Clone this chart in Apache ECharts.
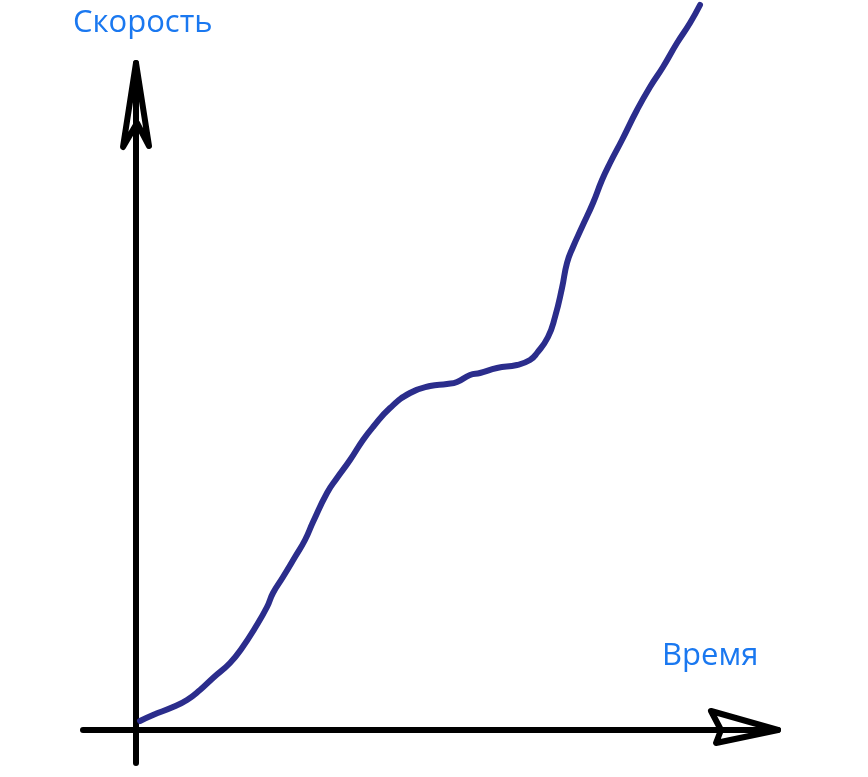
<!DOCTYPE html>
<html>
<head>
<meta charset="utf-8">
<script src="https://cdn.jsdelivr.net/npm/echarts@6/dist/echarts.min.js"></script>
<style>
html,body{margin:0;padding:0;background:#fff;}
#chart{width:868px;height:777px;}
</style>
</head>
<body>
<div id="chart"></div>
<script>
// Curve values (time, speed), in arbitrary units
const time = [4,17,37,51,64,77,94,106,119,131,137,147,159,169,177,191,201,214,227,237,254,274,294,311,321,334,344,361,381,394,401,412,419,426,431,437,446,457,466,474,486,501,514,527,541,554,564];
const speed = [9,15,23,30,40,52,67,82,102,123,137,153,173,190,208,237,252,270,290,303,322,337,344,346,348,355,357,362,365,370,377,393,413,442,467,483,503,527,550,567,590,620,643,663,687,707,725];
const xName = 'Время';
const yName = 'Скорость';

const chart = echarts.init(document.getElementById('chart'), null, {renderer: 'canvas'});
const data = time.map((t, i) => [t, speed[i]]);

const axisCommon = {
  type: 'value',
  axisLine: {show: true, onZero: true, lineStyle: {color: '#000', width: 6, cap: 'round'}},
  axisTick: {show: false},
  axisLabel: {show: false},
  splitLine: {show: false}
};

chart.setOption({
  animation: false,
  backgroundColor: '#fff',
  grid: {left: 83, right: 90, top: 63, bottom: 14},
  xAxis: Object.assign({}, axisCommon, {min: -53, max: 642}),
  yAxis: Object.assign({}, axisCommon, {min: -33, max: 667}),
  series: [{
    type: 'line',
    data: data,
    smooth: 0.5,
    symbol: 'none',
    clip: false,
    lineStyle: {color: '#2b2d8c', width: 6, cap: 'round', join: 'round'}
  }]
});

// Arrowheads and labels placed relative to the axes ends
const xTip = chart.convertToPixel({gridIndex: 0}, [642, 0]);
const yTip = chart.convertToPixel({gridIndex: 0}, [0, 667]);
const arrowStyle = {stroke: '#000', fill: 'none', lineWidth: 6, lineJoin: 'round', lineCap: 'round'};
const labelStyle = {fill: '#1a78f0', fontSize: 31, fontFamily: 'Open Sans, Noto Sans, sans-serif'};

chart.setOption({
  graphic: [
    {type: 'polygon', shape: {points: [
      [xTip[0] - 67, xTip[1] - 19], [xTip[0], xTip[1]], [xTip[0] - 62, xTip[1] + 13], [xTip[0] - 57, xTip[1]]
    ]}, style: arrowStyle, z: 10},
    {type: 'polygon', shape: {points: [
      [yTip[0], yTip[1]], [yTip[0] + 13, yTip[1] + 83], [yTip[0] + 1, yTip[1] + 60], [yTip[0] - 13, yTip[1] + 84]
    ]}, style: arrowStyle, z: 10},
    {type: 'text', left: 73, top: 8, style: Object.assign({text: yName}, labelStyle)},
    {type: 'text', left: 662, top: 641, style: Object.assign({text: xName}, labelStyle)}
  ]
});
</script>
</body>
</html>
